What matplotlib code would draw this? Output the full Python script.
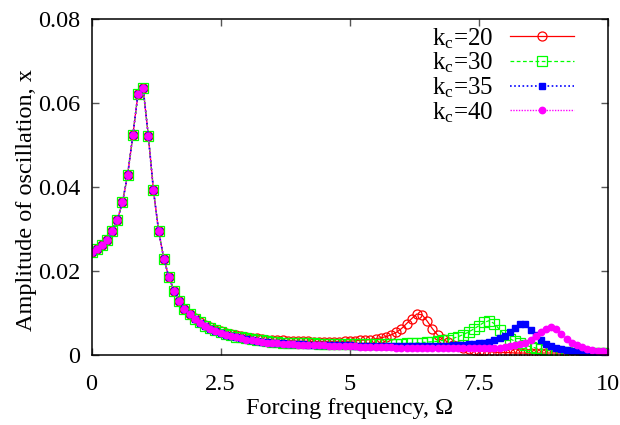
import numpy as np
import matplotlib
matplotlib.use("Agg")
import matplotlib.pyplot as plt

plt.rcParams['font.family'] = ['Liberation Serif', 'DejaVu Serif']
plt.rcParams['mathtext.fontset'] = 'custom'
plt.rcParams['mathtext.rm'] = 'Liberation Serif'
plt.rcParams['mathtext.it'] = 'Liberation Serif:italic'

# forcing frequency grid, step 0.1
omega = np.linspace(0, 10, 101)

# part shared by all k_c (Omega = 0 .. 1.9)
low = [0.0244, 0.0252, 0.0261, 0.0274, 0.0294, 0.0321, 0.0363, 0.0429, 0.0522, 0.0621,
       0.0634, 0.0521, 0.0391, 0.0294, 0.0229, 0.0184, 0.0152, 0.0129, 0.0110, 0.0096]

# Omega = 2.0 .. 10.0
tail20 = [0.0087, 0.0078, 0.0071, 0.0065, 0.0060, 0.0056, 0.0052, 0.0049, 0.0046, 0.0044,
          0.0042, 0.0040, 0.0039, 0.0037, 0.0036, 0.0035, 0.0034, 0.0034, 0.0033, 0.0033,
          0.0032, 0.0032, 0.0032, 0.0031, 0.0031, 0.0031, 0.0031, 0.0031, 0.0031, 0.0032,
          0.0032, 0.0033, 0.0034, 0.0035, 0.0036, 0.0038, 0.0040, 0.0043, 0.0047, 0.0053,
          0.0062, 0.0074, 0.0086, 0.0097, 0.0095, 0.0080, 0.0062, 0.0047, 0.0037, 0.0030,
          0.0024, 0.0020, 0.0016, 0.0013, 0.0011, 0.0009, 0.0008, 0.0007, 0.0006, 0.0005,
          0.0005, 0.0005, 0.0004, 0.0004, 0.0004, 0.0004, 0.0004, 0.0004, 0.0004, 0.0004,
          0.0004, 0.0004, 0.0004, 0.0004, 0.0004, 0.0004, 0.0004, 0.0004, 0.0004, 0.0004,
          0.0004]
tail30 = [0.0086, 0.0077, 0.0069, 0.0063, 0.0058, 0.0053, 0.0049, 0.0046, 0.0043, 0.0041,
          0.0039, 0.0037, 0.0035, 0.0034, 0.0032, 0.0031, 0.0030, 0.0029, 0.0029, 0.0028,
          0.0028, 0.0027, 0.0027, 0.0027, 0.0026, 0.0026, 0.0026, 0.0026, 0.0025, 0.0025,
          0.0025, 0.0025, 0.0025, 0.0025, 0.0025, 0.0025, 0.0025, 0.0025, 0.0026, 0.0026,
          0.0026, 0.0027, 0.0027, 0.0028, 0.0029, 0.0030, 0.0031, 0.0032, 0.0034, 0.0036,
          0.0039, 0.0043, 0.0048, 0.0054, 0.0061, 0.0069, 0.0077, 0.0081, 0.0074, 0.0060,
          0.0047, 0.0038, 0.0032, 0.0027, 0.0023, 0.0019, 0.0016, 0.0013, 0.0011, 0.0009,
          0.0008, 0.0007, 0.0006, 0.0005, 0.0005, 0.0004, 0.0004, 0.0004, 0.0003, 0.0003,
          0.0003]
tail35 = [0.0085, 0.0076, 0.0068, 0.0062, 0.0057, 0.0052, 0.0048, 0.0045, 0.0042, 0.0039,
          0.0037, 0.0035, 0.0033, 0.0031, 0.0030, 0.0029, 0.0028, 0.0027, 0.0026, 0.0026,
          0.0025, 0.0025, 0.0024, 0.0024, 0.0023, 0.0023, 0.0023, 0.0022, 0.0022, 0.0022,
          0.0022, 0.0021, 0.0021, 0.0021, 0.0021, 0.0021, 0.0021, 0.0021, 0.0021, 0.0021,
          0.0021, 0.0021, 0.0021, 0.0021, 0.0021, 0.0021, 0.0021, 0.0021, 0.0021, 0.0021,
          0.0022, 0.0023, 0.0024, 0.0025, 0.0026, 0.0027, 0.0029, 0.0031, 0.0034, 0.0039,
          0.0045, 0.0054, 0.0064, 0.0073, 0.0072, 0.0060, 0.0046, 0.0034, 0.0026, 0.0020,
          0.0016, 0.0013, 0.0011, 0.0009, 0.0008, 0.0007, 0.0006, 0.0005, 0.0005, 0.0004,
          0.0004]
tail40 = [0.0084, 0.0075, 0.0068, 0.0061, 0.0056, 0.0051, 0.0047, 0.0044, 0.0041, 0.0039,
          0.0036, 0.0034, 0.0032, 0.0031, 0.0029, 0.0028, 0.0027, 0.0026, 0.0025, 0.0025,
          0.0024, 0.0023, 0.0023, 0.0022, 0.0022, 0.0022, 0.0021, 0.0021, 0.0021, 0.0020,
          0.0020, 0.0020, 0.0019, 0.0019, 0.0019, 0.0018, 0.0018, 0.0018, 0.0018, 0.0017,
          0.0017, 0.0017, 0.0017, 0.0017, 0.0016, 0.0016, 0.0016, 0.0016, 0.0016, 0.0016,
          0.0016, 0.0016, 0.0016, 0.0016, 0.0016, 0.0016, 0.0016, 0.0016, 0.0017, 0.0017,
          0.0018, 0.0020, 0.0022, 0.0025, 0.0029, 0.0035, 0.0044, 0.0053, 0.0062, 0.0067,
          0.0062, 0.0050, 0.0038, 0.0029, 0.0022, 0.0018, 0.0014, 0.0011, 0.0009, 0.0008,
          0.0007]

labels = [r'k$_\mathrm{c}$=20', r'k$_\mathrm{c}$=30', r'k$_\mathrm{c}$=35', r'k$_\mathrm{c}$=40']
xticks = [0, 2.5, 5, 7.5, 10]
xticklabels = ['0', '2.5', '5', '7.5', '10']
yticks = [0, 0.02, 0.04, 0.06, 0.08]
yticklabels = ['0', '0.02', '0.04', '0.06', '0.08']

fig = plt.figure(figsize=(6.2, 4.25), dpi=100)
ax = fig.add_axes([0.1476, 0.1654, 0.833, 0.7906])

ax.plot(omega, low + tail20, color='#ff0000', lw=0.9, ls='-', marker='o',
        ms=6.5, mfc='none', mec='#ff0000', mew=0.9, label=labels[0])
ax.plot(omega, low + tail30, color='#00ff00', lw=0.9, ls=(0, (3, 2)), marker='s',
        ms=6.5, mfc='none', mec='#00ff00', mew=0.9, label=labels[1])
ax.plot(omega, low + tail35, color='#0000ff', lw=1.2, ls=(0, (1, 1.5)), marker='s',
        ms=3.8, mfc='#0000ff', mec='#0000ff', label=labels[2])
ax.plot(omega, low + tail40, color='#ff00ff', lw=1.0, ls=(0, (1, 1)), marker='o',
        ms=4.6, mfc='#ff00ff', mec='#ff00ff', label=labels[3])

ax.set_xlim(0, 10)
ax.set_ylim(0, 0.08)
ax.set_xticks(xticks)
ax.set_xticklabels(xticklabels)
ax.set_yticks(yticks)
ax.set_yticklabels(yticklabels)
ax.tick_params(direction='in', length=5, width=1, color='#555555',
               top=True, right=True, labelsize=17.5, pad=8)
ax.tick_params(axis='x', pad=14)
for s in ax.spines.values():
    s.set_linewidth(1.1)

ax.set_xlabel('Forcing frequency, \u03a9', fontsize=17.5, labelpad=2)
ax.set_ylabel('Amplitude of oscillation, x', fontsize=17.5)
ax.yaxis.set_label_coords(-0.106, 0.46)

ax.legend(loc='upper right', bbox_to_anchor=(0.94, 0.985), frameon=False,
          markerfirst=False, numpoints=1, fontsize=18, handlelength=2.56,
          handletextpad=0.7, labelspacing=0.0, borderpad=0.1, borderaxespad=0)

fig.savefig('out.png', dpi=100)
